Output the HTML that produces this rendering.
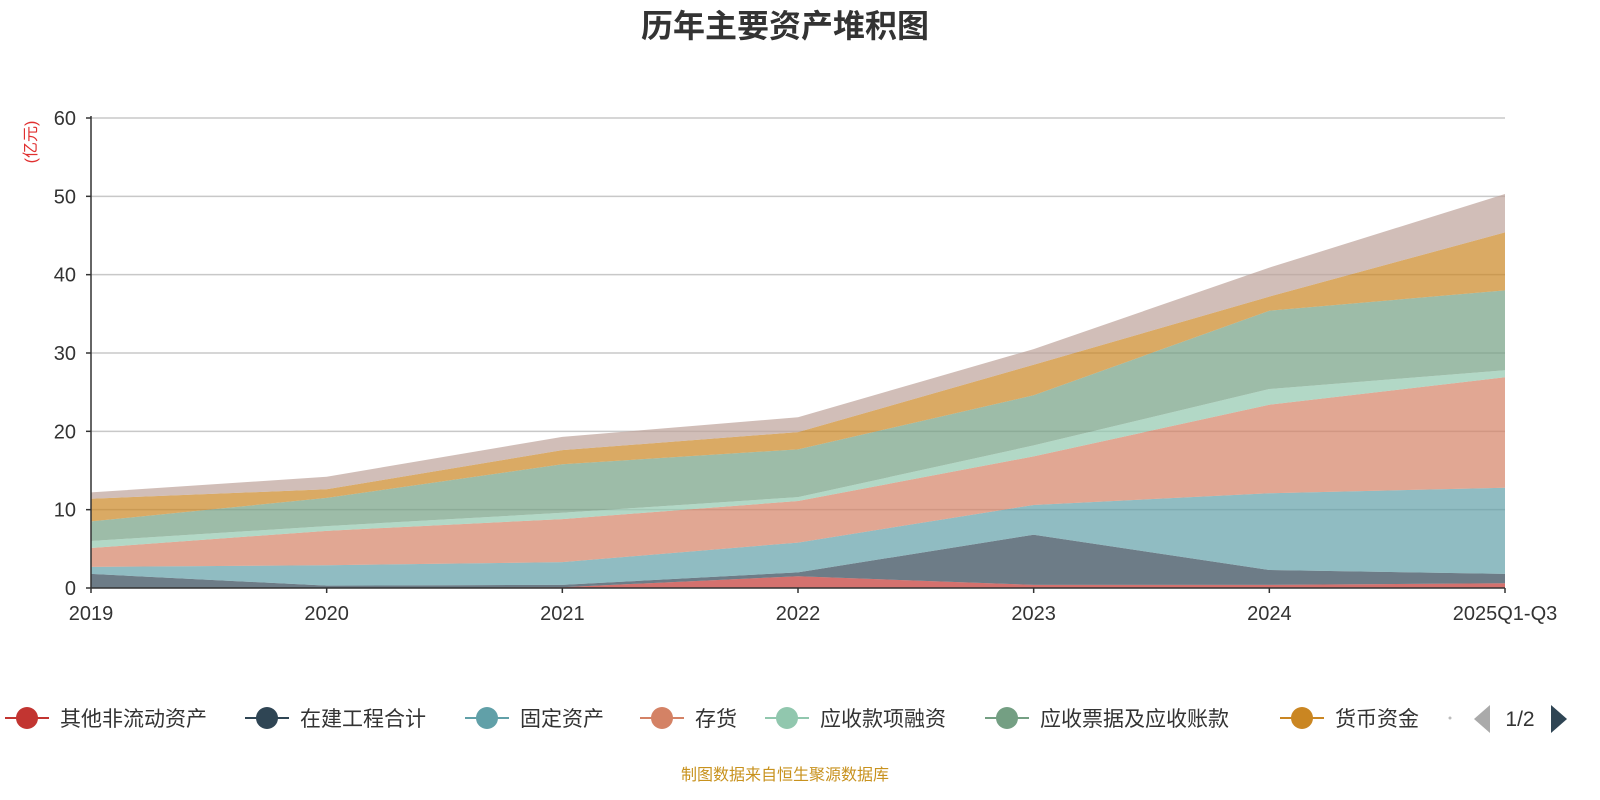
<!DOCTYPE html>
<html><head><meta charset="utf-8">
<style>
body{margin:0;background:#fff;}
svg{display:block;font-family:"Liberation Sans","Noto Sans CJK SC",sans-serif;}
</style></head>
<body>
<svg id="chart" width="1600" height="800" viewBox="0 0 1600 800">
<text x="785" y="37" text-anchor="middle" font-size="32" font-weight="bold" fill="#333">历年主要资产堆积图</text>
<text transform="translate(36,142) rotate(-90)" text-anchor="middle" font-size="16" fill="#e03030">(亿元)</text>
<g id="grid"></g>
<g id="areas"></g>
<g id="axes"></g>
<g id="legend"></g>
<text x="785" y="780" text-anchor="middle" font-size="16" fill="#c8921e">制图数据来自恒生聚源数据库</text>
</svg>
<script>
const categories = ["2019","2020","2021","2022","2023","2024","2025Q1-Q3"];
const yTicks = [0,10,20,30,40,50,60];
const seriesNames = ["其他非流动资产","在建工程合计","固定资产","存货","应收款项融资","应收票据及应收账款","货币资金","其他"];
const otherNonCurrent = [0.0,0.0,0.1,1.5,0.4,0.4,0.6];
const construction = [1.8,0.3,0.3,0.5,6.4,1.9,1.2];
const fixedAssets = [0.9,2.6,2.9,3.8,3.8,9.8,11.0];
const inventory = [2.4,4.4,5.5,5.3,6.2,11.3,14.1];
const recvFinancing = [0.9,0.6,0.8,0.5,1.4,2.0,0.9];
const receivables = [2.5,3.6,6.2,6.1,6.4,10.0,10.2];
const cash = [2.9,1.1,1.8,2.2,3.9,1.8,7.4];
const others = [0.8,1.6,1.7,1.9,2.0,3.7,4.9];
const seriesValues = [otherNonCurrent,construction,fixedAssets,inventory,recvFinancing,receivables,cash,others];
const colors = ["#c23531","#2f4554","#61a0a8","#d48265","#91c7ae","#749f83","#ca8622","#bda29a"];
const legendNames = ["其他非流动资产","在建工程合计","固定资产","存货","应收款项融资","应收票据及应收账款","货币资金"];

const NS="http://www.w3.org/2000/svg";
const X0=91,X1=1505,Y0=588,Y1=118,YMAX=60;
const xs=i=>X0+(X1-X0)*i/(categories.length-1);
const ys=v=>Y0-(Y0-Y1)*v/YMAX;
function mk(tag,attrs,parent){const e=document.createElementNS(NS,tag);for(const k in attrs)e.setAttribute(k,attrs[k]);parent.appendChild(e);return e;}

const grid=document.getElementById('grid');
yTicks.forEach(t=>{
  if(t>0){const l=mk('line',{x1:X0,x2:X1,y1:ys(t),y2:ys(t),stroke:'#c8c8c8','stroke-width':1.5},grid);
  
  }
});

const areas=document.getElementById('areas');
let base=categories.map(()=>0);
seriesValues.forEach((vals,si)=>{
  const top=base.map((b,i)=>b+vals[i]);
  let d='M'+top.map((v,i)=>xs(i)+','+ys(v)).join(' L');
  for(let i=categories.length-1;i>=0;i--) d+=' L'+xs(i)+','+ys(base[i]);
  d+=' Z';
  const p=mk('path',{d:d,fill:colors[si],'fill-opacity':0.7,stroke:'none'},areas);
  
  
  base=top;
});

const axes=document.getElementById('axes');
const ya=mk('line',{x1:X0,x2:X0,y1:Y1-2,y2:Y0,stroke:'#333','stroke-width':1.5},axes);


const xa=mk('line',{x1:X0,x2:X1,y1:Y0,y2:Y0,stroke:'#333','stroke-width':1.5},axes);


yTicks.forEach(t=>{
  mk('line',{x1:X0-5,x2:X0,y1:ys(t),y2:ys(t),stroke:'#333','stroke-width':1.5},axes);
  const tx=mk('text',{x:X0-15,y:ys(t)+7,'text-anchor':'end','font-size':20,fill:'#333'},axes);
  tx.textContent=t;
  
  
});
categories.forEach((c,i)=>{
  mk('line',{x1:xs(i),x2:xs(i),y1:Y0,y2:Y0+5,stroke:'#333','stroke-width':1.5},axes);
  const tx=mk('text',{x:xs(i),y:Y0+32,'text-anchor':'middle','font-size':20,fill:'#333'},axes);
  tx.textContent=c;
  
  
});

const lg=document.getElementById('legend');
const lx=[5,245,465,640,765,985,1280];
legendNames.forEach((n,i)=>{
  const g=mk('g',{},lg);
  
  
  mk('line',{x1:lx[i],x2:lx[i]+44,y1:718,y2:718,stroke:colors[i],'stroke-width':2},g);
  mk('circle',{cx:lx[i]+22,cy:718,r:11,fill:colors[i]},g);
  const t=mk('text',{x:lx[i]+55,y:726,'font-size':21,fill:'#333'},g);
  t.textContent=n;
});
mk('circle',{cx:1450,cy:718,r:1.5,fill:'#bbb'},lg);
const prev=mk('path',{d:'M1490,705 L1474,719 L1490,733 Z',fill:'#aaa'},lg);


const pg=mk('text',{x:1520,y:726,'text-anchor':'middle','font-size':21,fill:'#333'},lg);
pg.textContent='1/2';


const next=mk('path',{d:'M1551,705 L1567,719 L1551,733 Z',fill:'#2f4554'},lg);


</script>
</body></html>
